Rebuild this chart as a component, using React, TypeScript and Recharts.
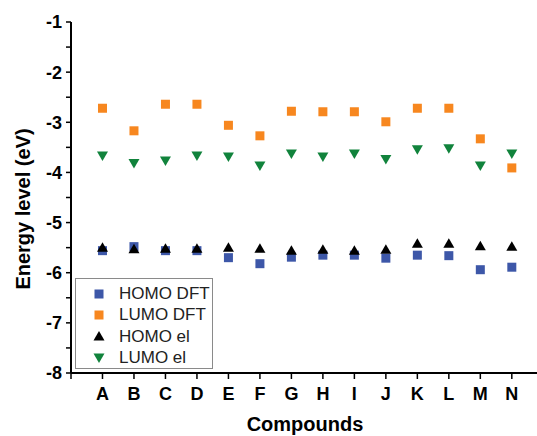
import React from 'react';
import { ScatterChart, Scatter, XAxis, YAxis } from 'recharts';

const COMPOUNDS = ['A', 'B', 'C', 'D', 'E', 'F', 'G', 'H', 'I', 'J', 'K', 'L', 'M', 'N'];
const HOMO_DFT = [-5.56, -5.48, -5.56, -5.56, -5.70, -5.82, -5.69, -5.65, -5.65, -5.71, -5.65, -5.66, -5.94, -5.89];
const LUMO_DFT = [-2.72, -3.17, -2.64, -2.64, -3.06, -3.27, -2.78, -2.79, -2.79, -2.99, -2.72, -2.72, -3.33, -3.91];
const HOMO_EL = [-5.49, -5.52, -5.51, -5.51, -5.49, -5.51, -5.55, -5.53, -5.55, -5.53, -5.41, -5.41, -5.46, -5.47];
const LUMO_EL = [-3.67, -3.82, -3.77, -3.67, -3.69, -3.87, -3.63, -3.69, -3.63, -3.74, -3.55, -3.53, -3.87, -3.63];
const X_TICKS = [0, 1, 2, 3, 4, 5, 6, 7, 8, 9, 10, 11, 12, 13, 14];
const Y_TICKS = [-8, -7.5, -7, -6.5, -6, -5.5, -5, -4.5, -4, -3.5, -3, -2.5, -2, -1.5, -1];

const Colors = {
  HomoDft: '#3d57a8',
  LumoDft: '#f7871f',
  HomoEl: '#000000',
  LumoEl: '#11833c',
  Text: '#000000',
  Border: '#8a8a8a',
} as const;

const FONT = '"Liberation Sans", Arial, Helvetica, sans-serif';

const toPoints = (values: number[]) => values.map((v, i) => ({ x: i + 1, y: v }));

// square marker
const Square = ({ cx, cy, fill }: any) => {
  if (cx == null || cy == null) return null;
  return <rect x={cx - 4.5} y={cy - 4.5} width={9} height={9} fill={fill} />;
};

// up triangle
const UpTri = ({ cx, cy, fill }: any) => {
  if (cx == null || cy == null) return null;
  return <polygon points={`${cx - 5.5},${cy + 4.5} ${cx + 5.5},${cy + 4.5} ${cx},${cy - 5}`} fill={fill} />;
};

// down triangle
const DownTri = ({ cx, cy, fill }: any) => {
  if (cx == null || cy == null) return null;
  return <polygon points={`${cx - 5.5},${cy - 4.5} ${cx + 5.5},${cy - 4.5} ${cx},${cy + 5}`} fill={fill} />;
};

const LEGEND_ITEMS = [
  { name: 'HOMO DFT', color: Colors.HomoDft, kind: 'square' },
  { name: 'LUMO DFT', color: Colors.LumoDft, kind: 'square' },
  { name: 'HOMO el', color: Colors.HomoEl, kind: 'up' },
  { name: 'LUMO el', color: Colors.LumoEl, kind: 'down' },
];

const LegendMarker = ({ kind, color }: { kind: string; color: string }) => {
  const c = 8;
  return (
    <svg width={16} height={16} style={{ display: 'block' }}>
      {kind === 'square' && <Square cx={c} cy={c} fill={color} />}
      {kind === 'up' && <UpTri cx={c} cy={c} fill={color} />}
      {kind === 'down' && <DownTri cx={c} cy={c} fill={color} />}
    </svg>
  );
};

const YLabel = () => (
  <text
    x={0}
    y={0}
    transform="translate(30, 209) rotate(-90)"
    textAnchor="middle"
    fontSize={20}
    fontWeight="bold"
    fontFamily={FONT}
    fill={Colors.Text}
  >
    Energy level (eV)
  </text>
);

const XLabel = () => (
  <text x={305} y={431} textAnchor="middle" fontSize={20} fontWeight="bold" fontFamily={FONT} fill={Colors.Text}>
    Compounds
  </text>
);

export default function App() {
  return (
    <div style={{ position: 'absolute', left: 0, top: 0, width: 537, height: 436, background: '#fff', fontFamily: FONT, overflow: 'hidden' }}>
      <ScatterChart width={537} height={436} margin={{ top: 22, right: 0, bottom: 0, left: 0 }}>
        <XAxis
          type="number"
          dataKey="x"
          domain={[0, 14.8]}
          ticks={X_TICKS}
          allowDataOverflow
          tickFormatter={(v: number) => COMPOUNDS[v - 1] ?? ''}
          height={63}
          tickSize={6}
          tickMargin={8}
          interval={0}
          axisLine={{ stroke: '#000', strokeWidth: 2 }}
          tickLine={{ stroke: '#000', strokeWidth: 1.5 }}
          tick={{ fontSize: 18, fontWeight: 'bold', fill: Colors.Text, fontFamily: FONT }}
        />
        <YAxis
          type="number"
          dataKey="y"
          domain={[-8, -1]}
          ticks={Y_TICKS}
          interval={0}
          width={71}
          tickSize={5}
          tickMargin={4}
          tickFormatter={(v: number) => (Number.isInteger(v) ? String(v) : '')}
          axisLine={{ stroke: '#000', strokeWidth: 2 }}
          tickLine={{ stroke: '#000', strokeWidth: 1.5 }}
          tick={{ fontSize: 18, fontWeight: 'bold', fill: Colors.Text, fontFamily: FONT }}
        />
        <Scatter name="HOMO DFT" data={toPoints(HOMO_DFT)} fill={Colors.HomoDft} shape={Square} isAnimationActive={false} />
        <Scatter name="LUMO DFT" data={toPoints(LUMO_DFT)} fill={Colors.LumoDft} shape={Square} isAnimationActive={false} />
        <Scatter name="HOMO el" data={toPoints(HOMO_EL)} fill={Colors.HomoEl} shape={UpTri} isAnimationActive={false} />
        <Scatter name="LUMO el" data={toPoints(LUMO_EL)} fill={Colors.LumoEl} shape={DownTri} isAnimationActive={false} />
        <YLabel />
        <XLabel />
      </ScatterChart>

      {/* legend box, bottom-left inside the plot */}
      <div
        style={{
          position: 'absolute',
          left: 75,
          top: 278,
          width: 138,
          height: 91,
          border: `1px solid ${Colors.Border}`,
          boxSizing: 'border-box',
          background: '#fff',
          paddingTop: 4,
        }}
      >
        {LEGEND_ITEMS.map((item) => (
          <div key={item.name} style={{ display: 'flex', alignItems: 'center', height: 21.3, paddingLeft: 15 }}>
            <LegendMarker kind={item.kind} color={item.color} />
            <span style={{ marginLeft: 12, fontSize: 17, color: '#222', lineHeight: '21px' }}>{item.name}</span>
          </div>
        ))}
      </div>
    </div>
  );
}
